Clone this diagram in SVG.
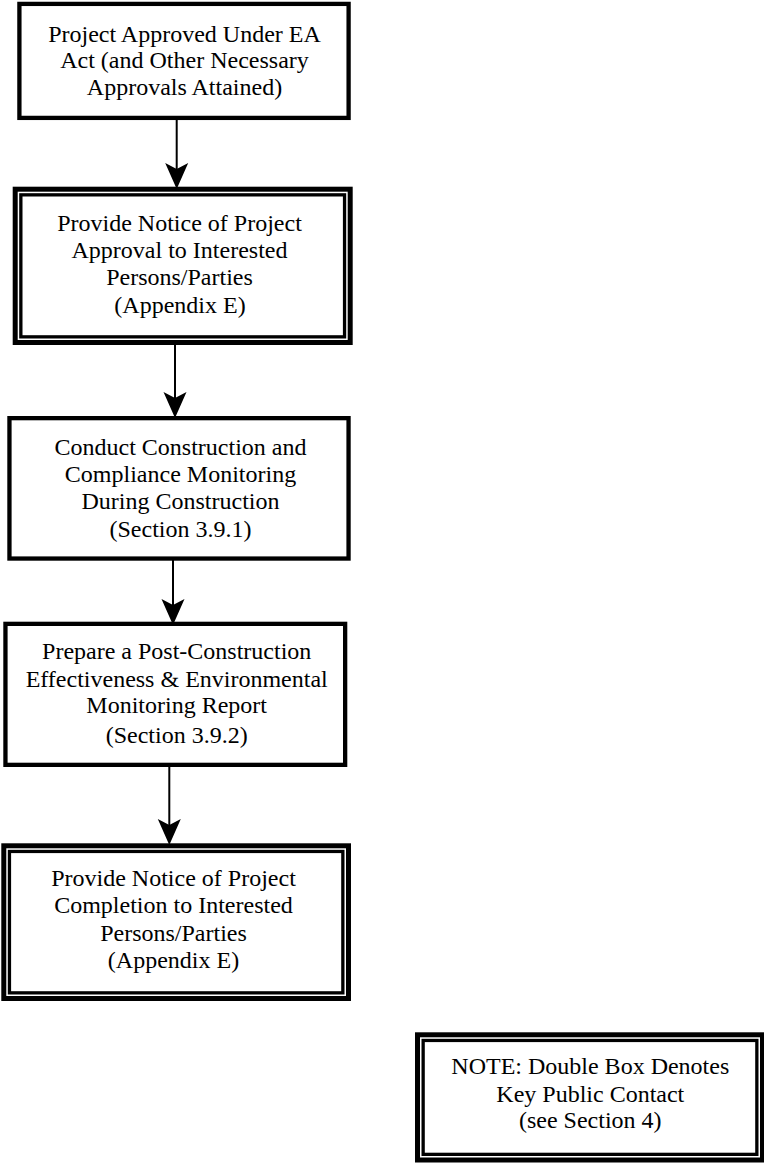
<svg xmlns="http://www.w3.org/2000/svg" width="764" height="1163" viewBox="0 0 764 1163">
<style>
.bg{fill:#fff}
.single{fill:#fff;stroke:#000;stroke-width:4.3}
.outer{fill:#fff;stroke:#000;stroke-width:5}
.inner{fill:none;stroke:#000;stroke-width:3.3}
.t{font-family:"Liberation Serif","Times New Roman",serif;font-size:24px;fill:#000;text-anchor:middle}
.conn{stroke:#000;stroke-width:2;fill:none}
</style>
<defs>
<marker id="ah" viewBox="0 0 26 24" markerWidth="26" markerHeight="24" refX="12" refY="12" orient="auto" markerUnits="userSpaceOnUse">
<path d="M0,0.5 L26,12 L0,23.5 L6,12 Z" fill="#000"/>
</marker>
</defs>
<rect class="bg" x="0" y="0" width="764" height="1163"/>

<g id="connectors">
<line class="conn" x1="176.7" y1="118" x2="176.7" y2="175" marker-end="url(#ah)"/>
<line class="conn" x1="175" y1="343" x2="175" y2="404" marker-end="url(#ah)"/>
<line class="conn" x1="173" y1="559" x2="173" y2="611" marker-end="url(#ah)"/>
<line class="conn" x1="169.3" y1="765" x2="169.3" y2="831" marker-end="url(#ah)"/>
</g>

<g id="node1">
<rect class="single" x="19.4" y="3.9" width="329.2" height="114"/>
<text class="t" x="184.5"><tspan x="184.5" y="41.7">Project Approved Under EA</tspan><tspan x="184.5" y="68.3">Act (and Other Necessary</tspan><tspan x="184.5" y="95">Approvals Attained)</tspan></text>
</g>

<g id="node2">
<rect class="outer" x="15.2" y="189.2" width="335" height="153.3"/>
<rect class="inner" x="20.85" y="194.85" width="323.7" height="142"/>
<text class="t"><tspan x="179.5" y="230.7">Provide Notice of Project</tspan><tspan x="179.5" y="258.3">Approval to Interested</tspan><tspan x="179.5" y="285">Persons/Parties</tspan><tspan x="180" y="313.3">(Appendix E)</tspan></text>
</g>

<g id="node3">
<rect class="single" x="9.45" y="418.15" width="339.1" height="140.4"/>
<text class="t"><tspan x="180.5" y="455">Conduct Construction and</tspan><tspan x="180.5" y="482.3">Compliance Monitoring</tspan><tspan x="180.5" y="509.3">During Construction</tspan><tspan x="180.5" y="537.3">(Section 3.9.1)</tspan></text>
</g>

<g id="node4">
<rect class="single" x="5.45" y="623.85" width="339.7" height="141"/>
<text class="t"><tspan x="176.7" y="659.3">Prepare a Post-Construction</tspan><tspan x="176.7" y="686.7">Effectiveness &amp; Environmental</tspan><tspan x="176.7" y="713.3">Monitoring Report</tspan><tspan x="176.7" y="742.7">(Section 3.9.2)</tspan></text>
</g>

<g id="node5">
<rect class="outer" x="3.8" y="845.8" width="344.7" height="152.7"/>
<rect class="inner" x="9.45" y="851.45" width="333.4" height="141.4"/>
<text class="t"><tspan x="173.5" y="886">Provide Notice of Project</tspan><tspan x="173.5" y="913.3">Completion to Interested</tspan><tspan x="173.5" y="940.7">Persons/Parties</tspan><tspan x="173.5" y="968.3">(Appendix E)</tspan></text>
</g>

<g id="note">
<rect class="outer" x="417.5" y="1034.8" width="345" height="125.2"/>
<rect class="inner" x="423.15" y="1040.45" width="333.7" height="113.9"/>
<text class="t"><tspan x="590.3" y="1074">NOTE: Double Box Denotes</tspan><tspan x="590.3" y="1101.7">Key Public Contact</tspan><tspan x="590.3" y="1128.3">(see Section 4)</tspan></text>
</g>
</svg>
